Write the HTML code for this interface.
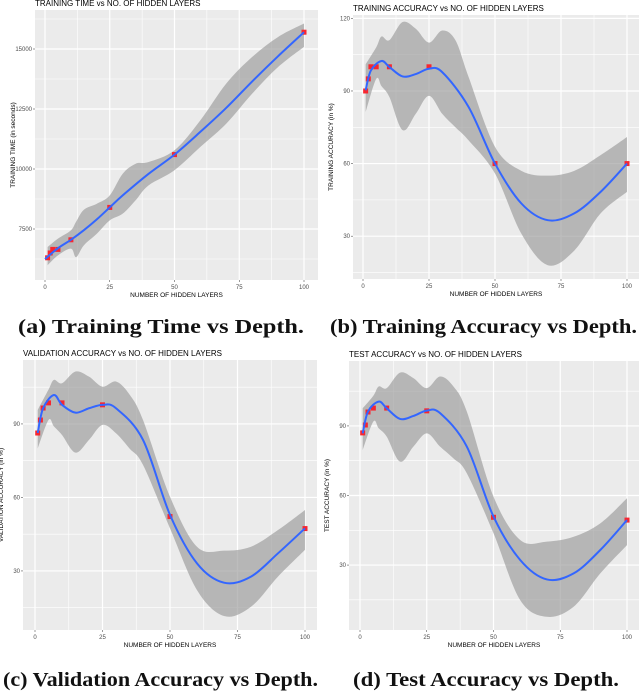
<!DOCTYPE html>
<html><head><meta charset="utf-8">
<style>
body{margin:0;background:#fff;}
svg{display:block;}
.cap{font-family:"Liberation Serif",serif;font-weight:bold;font-size:20px;fill:#111;}
.ttl{font-family:"Liberation Sans",sans-serif;font-size:8px;fill:#000;}
.tk{font-family:"Liberation Sans",sans-serif;font-size:6px;fill:#4d4d4d;}
.ax{font-family:"Liberation Sans",sans-serif;font-size:6.5px;fill:#000;}
</style></head>
<body>
<svg id="fig" width="640" height="692" xmlns="http://www.w3.org/2000/svg">
<text class="cap" x="18" y="333" textLength="286" lengthAdjust="spacingAndGlyphs">(a)  Training Time vs Depth.</text>
<text class="cap" x="330" y="333" textLength="307" lengthAdjust="spacingAndGlyphs">(b)  Training Accuracy vs Depth.</text>
<text class="cap" x="3" y="686" textLength="315" lengthAdjust="spacingAndGlyphs">(c)  Validation Accuracy vs Depth.</text>
<text class="cap" x="353" y="686" textLength="266" lengthAdjust="spacingAndGlyphs">(d)  Test Accuracy vs Depth.</text>
</svg>
<script>
// shared data
const layers = [1, 2, 3, 5, 10, 25, 50, 100];
const xTicks = [0, 25, 50, 75, 100];

// (a) training time
const aPoints = [6300, 6500, 6650, 6650, 7050, 8400, 10600, 15700];
const aFitX = [0, 5, 10, 15, 20, 25, 30, 40, 50, 60, 70, 80, 90, 100];
const aFit = [6250, 6700, 7050, 7450, 7900, 8400, 8900, 9800, 10600, 11550, 12550, 13650, 14700, 15700];
const aBandX = [1, 5, 10, 12, 15, 20, 25, 30, 35, 40, 50, 60, 70, 80, 90, 100];
const aUpper = [6750, 7100, 7445, 7800, 8300, 8550, 8900, 9800, 10220, 10290, 10780, 12030, 13560, 14670, 15500, 16060];
const aLower = [5990, 6400, 6680, 6330, 6820, 7300, 7860, 8140, 8700, 9320, 9950, 10920, 11890, 13140, 14250, 15090];
const aYTicks = [7500, 10000, 12500, 15000];

// (b) training accuracy
const bPoints = [90, 95, 100, 100, 100, 100, 60, 60];
const bFitX = [1, 3, 7, 10, 15, 20, 25, 30, 40, 50, 60, 70, 80, 90, 100];
const bFit = [90.3, 98.5, 102.4, 99.9, 96, 97, 99.2, 97.8, 83.4, 60, 43.5, 36.6, 39.4, 48.3, 60];
const bBandX = [1, 5, 7, 10, 15, 20, 25, 30, 35, 40, 50, 60, 70, 80, 90, 100];
const bUpper = [101, 108, 112.5, 111, 118.5, 115.7, 110, 115, 111, 95.8, 66.9, 57, 55, 57, 63.5, 71];
const bLower = [81.3, 95, 92, 87.5, 73.8, 80.6, 88, 80.6, 75, 69.6, 55.9, 31, 18, 24, 39.4, 48.3];
const bYTicks = [30, 60, 90, 120];

// (c) validation accuracy
const cPoints = [86.3, 91.6, 96.5, 98.6, 98.6, 97.8, 52.2, 47.3];
const cFitX = [1, 3, 7, 10, 15, 20, 25, 30, 40, 50, 60, 70, 80, 90, 100];
const cFit = [86.3, 96.4, 101.8, 97.8, 94.6, 96.4, 97.8, 96.4, 83.5, 52.9, 33.1, 25.2, 27.7, 37.2, 47.4];
const cBandX = [1, 5, 7, 10, 15, 20, 25, 30, 35, 40, 50, 60, 70, 80, 90, 100];
const cUpper = [95.7, 104, 108, 106.6, 111.4, 109.3, 105.2, 107.3, 102, 91.6, 60.3, 39.9, 38.3, 39.9, 46.7, 54.9];
const cLower = [80, 91.6, 89, 85.5, 78.3, 83.5, 89.6, 86.2, 80, 73.3, 47.4, 22.2, 11.6, 15.4, 27.7, 38.6];
const cYTicks = [30, 60, 90];

// (d) test accuracy
const dPoints = [87, 90.4, 96, 97.7, 97.7, 96.5, 50.6, 49.4];
const dFitX = [1, 3, 7, 10, 15, 20, 25, 30, 40, 50, 60, 70, 80, 90, 100];
const dFit = [86.8, 96.2, 100.5, 97.6, 93, 94.3, 96.6, 95.5, 81.1, 50.9, 32.2, 23.8, 26.4, 36.5, 49.4];
const dBandX = [1, 5, 7, 10, 15, 20, 25, 30, 35, 40, 50, 60, 70, 80, 90, 100];
const dUpper = [97.6, 103, 107, 106.3, 113, 110.6, 106.3, 111.3, 107, 96.2, 59.5, 40.8, 40.1, 42.2, 48, 58.8];
const dLower = [79.6, 91.9, 89, 85.4, 74.6, 81.1, 86.8, 81.1, 76, 69.6, 43.7, 14.9, 7.7, 12, 26.4, 38.6];
const dYTicks = [30, 60, 90];

const NS = 'http://www.w3.org/2000/svg';
const fig = document.getElementById('fig');
function mk(tag, attrs, parent) {
  const e = document.createElementNS(NS, tag);
  for (const k in attrs) e.setAttribute(k, attrs[k]);
  (parent || fig).appendChild(e);
  return e;
}
function smooth(pts) {
  let d = 'M' + pts[0][0] + ',' + pts[0][1];
  for (let i = 0; i < pts.length - 1; i++) {
    const p0 = pts[Math.max(0, i - 1)], p1 = pts[i], p2 = pts[i + 1], p3 = pts[Math.min(pts.length - 1, i + 2)];
    const c1x = p1[0] + (p2[0] - p0[0]) / 6, c1y = p1[1] + (p2[1] - p0[1]) / 6;
    const c2x = p2[0] - (p3[0] - p1[0]) / 6, c2y = p2[1] - (p3[1] - p1[1]) / 6;
    d += ' C' + c1x + ',' + c1y + ' ' + c2x + ',' + c2y + ' ' + p2[0] + ',' + p2[1];
  }
  return d;
}
function panel(cfg) {
  const g = mk('g', {});
  
  
  const sx = v => cfg.x0 + (v - 0) / 100 * (cfg.x100 - cfg.x0);
  const sy = v => cfg.pb - (v - cfg.ymin) / (cfg.ymax - cfg.ymin) * (cfg.pb - cfg.pt);
  const bg = mk('rect', {x: cfg.pl, y: cfg.pt, width: cfg.pr - cfg.pl, height: cfg.pb - cfg.pt, fill: '#EBEBEB'}, g);
  
  
  for (let i = 0; i < cfg.yt.length + 1; i++) {
    const step = cfg.yt[1] - cfg.yt[0];
    const v = cfg.yt[0] - step / 2 + i * step;
    if (sy(v) > cfg.pt && sy(v) < cfg.pb) mk('line', {x1: cfg.pl, x2: cfg.pr, y1: sy(v), y2: sy(v), stroke: '#fff', 'stroke-width': 0.6}, g);
  }
  for (let i = 0; i < xTicks.length - 1; i++) {
    const v = (xTicks[i] + xTicks[i + 1]) / 2;
    mk('line', {x1: sx(v), x2: sx(v), y1: cfg.pt, y2: cfg.pb, stroke: '#fff', 'stroke-width': 0.6}, g);
  }
  cfg.yt.forEach(v => {
    const l = mk('line', {x1: cfg.pl, x2: cfg.pr, y1: sy(v), y2: sy(v), stroke: '#fff', 'stroke-width': 1.2}, g);
    
    
    mk('line', {x1: cfg.pl - 2, x2: cfg.pl, y1: sy(v), y2: sy(v), stroke: '#333', 'stroke-width': 0.5}, g);
    const t = mk('text', {x: cfg.pl - 3, y: sy(v) + 2, 'text-anchor': 'end', class: 'tk'}, g);
    t.textContent = v;
    
    
  });
  xTicks.forEach(v => {
    const l = mk('line', {x1: sx(v), x2: sx(v), y1: cfg.pt, y2: cfg.pb, stroke: '#fff', 'stroke-width': 1.2}, g);
    
    
    mk('line', {x1: sx(v), x2: sx(v), y1: cfg.pb, y2: cfg.pb + 2, stroke: '#333', 'stroke-width': 0.5}, g);
    const t = mk('text', {x: sx(v), y: cfg.pb + 9, 'text-anchor': 'middle', class: 'tk'}, g);
    t.textContent = v;
    
    
  });
  const up = cfg.bx.map((x, i) => [sx(x), sy(cfg.up[i])]);
  const lo = cfg.bx.map((x, i) => [sx(x), sy(cfg.lo[i])]).reverse();
  const band = mk('path', {d: smooth(up) + ' L' + lo[0][0] + ',' + lo[0][1] + smooth(lo).replace(/^M[^C]*/, ' ') + ' Z', fill: '#999', 'fill-opacity': 0.65}, g);
  
  
  layers.forEach((x, i) => {
    const c = mk('rect', {x: sx(x) - 2.5, y: sy(cfg.pts[i]) - 2.5, width: 5, height: 5, fill: '#F8262F'}, g);
    
    
  });
  const line = mk('path', {d: smooth(cfg.fx.map((x, i) => [sx(x), sy(cfg.fit[i])])), fill: 'none', stroke: '#3366FF', 'stroke-width': 2}, g);
  
  
  const tt = mk('text', {x: cfg.pl, y: cfg.pt - 4, class: 'ttl'}, g);
  tt.textContent = cfg.title;
  
  
  const xt = mk('text', {x: (cfg.pl + cfg.pr) / 2, y: cfg.pb + 17, 'text-anchor': 'middle', class: 'ax'}, g);
  xt.textContent = 'NUMBER OF HIDDEN LAYERS';
  
  
  const cy = (cfg.pt + cfg.pb) / 2, cx = cfg.pl - 20;
  const yt = mk('text', {x: cx, y: cy, 'text-anchor': 'middle', class: 'ax', transform: 'rotate(-90 ' + cx + ' ' + cy + ')'}, g);
  yt.textContent = cfg.ytitle;
  
  
}
panel({id: 'training-time', pl: 35, pr: 318, pt: 10, pb: 280, x0: 45, x100: 304, ymin: 5375, ymax: 16625,
  yt: aYTicks, pts: aPoints, fx: aFitX, fit: aFit, bx: aBandX, up: aUpper, lo: aLower,
  title: 'TRAINING TIME vs NO. OF HIDDEN LAYERS', ytitle: 'TRAINING TIME (in seconds)'});
panel({id: 'training-accuracy', pl: 353, pr: 639, pt: 15, pb: 279, x0: 363, x100: 627, ymin: 12.3, ymax: 121.4,
  yt: bYTicks, pts: bPoints, fx: bFitX, fit: bFit, bx: bBandX, up: bUpper, lo: bLower,
  title: 'TRAINING ACCURACY vs NO. OF HIDDEN LAYERS', ytitle: 'TRAINING ACCURACY (in %)'});
panel({id: 'validation-accuracy', pl: 23, pr: 317, pt: 360, pb: 630, x0: 35, x100: 305, ymin: 5.9, ymax: 116.1,
  yt: cYTicks, pts: cPoints, fx: cFitX, fit: cFit, bx: cBandX, up: cUpper, lo: cLower,
  title: 'VALIDATION ACCURACY vs NO. OF HIDDEN LAYERS', ytitle: 'VALIDATION ACCURACY (in %)'});
panel({id: 'test-accuracy', pl: 349, pr: 639, pt: 361, pb: 630, x0: 360, x100: 627, ymin: 2, ymax: 118,
  yt: dYTicks, pts: dPoints, fx: dFitX, fit: dFit, bx: dBandX, up: dUpper, lo: dLower,
  title: 'TEST ACCURACY vs NO. OF HIDDEN LAYERS', ytitle: 'TEST ACCURACY (in %)'});
</script>
</body></html>
